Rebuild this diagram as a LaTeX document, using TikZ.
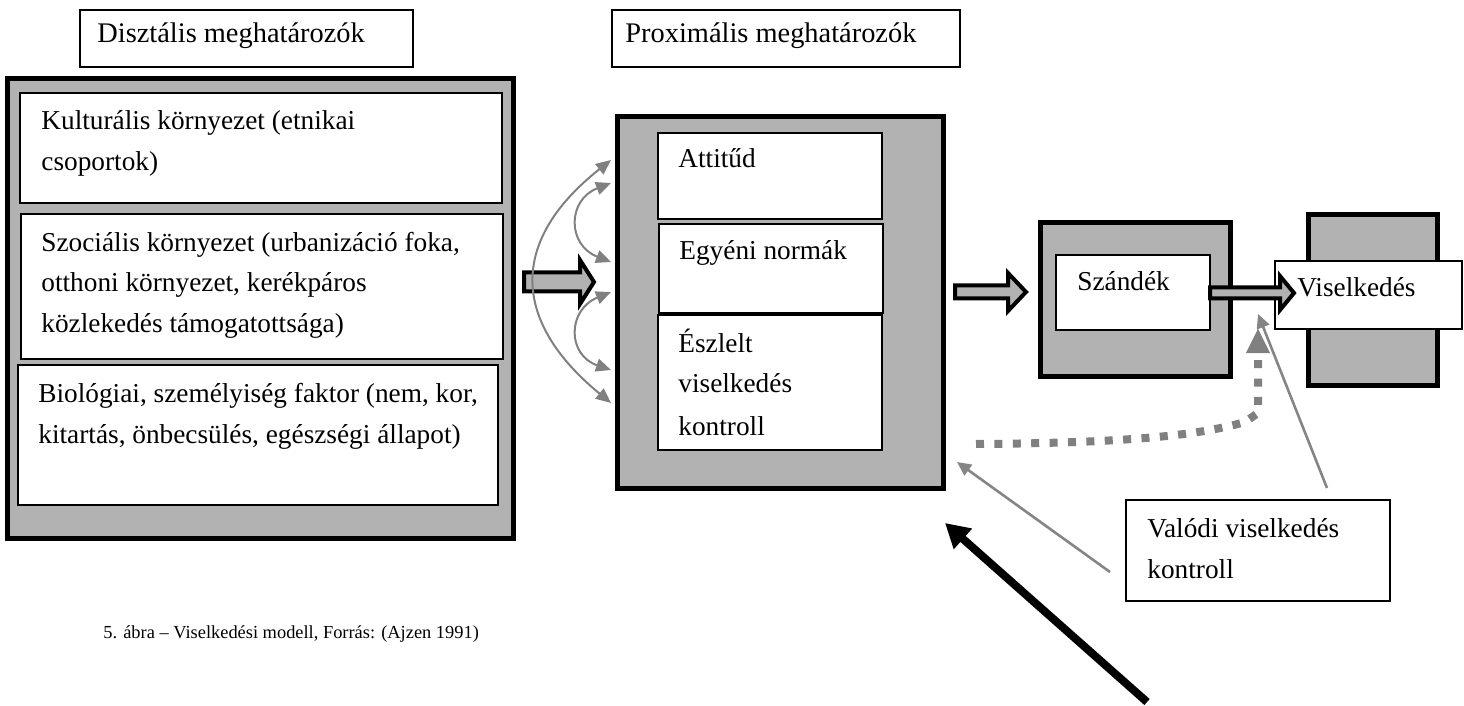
\documentclass[tikz,border=0pt]{standalone}
\usepackage{fontspec}
\setmainfont{Liberation Serif}
\usetikzlibrary{arrows.meta}
\newcommand\bodyfnt{\fontsize{13.65}{16}\selectfont}
\newcommand\lblfnt{\fontsize{14.2}{17}\selectfont}
\newcommand\capfnt{\fontsize{9.2}{11}\selectfont}
\newcommand\blockarr[6]{%
  \draw[barrow] ({#1},{#4-#5}) -- ({#2},{#4-#5}) -- ({#2},{#4-#6}) -- ({#3},{#4})
    -- ({#2},{#4+#6}) -- ({#2},{#4+#5}) -- ({#1},{#4+#5}) -- cycle;}
\begin{document}
\begin{tikzpicture}[x=0.5pt,y=-0.5pt,
  gbox/.style={draw=black, line width=2.5pt, fill=black!30, inner sep=0pt},
  wbox/.style={draw=black, line width=1.2pt, fill=white, inner sep=0pt},
  lbl/.style={draw=black, line width=1pt, fill=white, inner sep=0pt},
  txt/.style={inner sep=0pt, anchor=base west, font=\bodyfnt},
  barrow/.style={draw=black, line width=2pt, fill=black!30, line join=miter},
  garr/.style={draw=black!50, line width=1pt, {Triangle[length=7.5pt,width=6.5pt]}-{Triangle[length=7.5pt,width=6.5pt]}},
  tarr/.style={draw=black!48, line width=1.3pt, -{Triangle[length=7pt,width=6.5pt]}},
  dotarr/.style={draw=black!50, line width=4pt, dash pattern=on 4pt off 5.2pt, -{Triangle[length=12.5pt,width=11pt]}},
  bigarr/.style={draw=black, line width=4pt, -{Triangle[length=12pt,width=13pt]}}]
\useasboundingbox (0,0) rectangle (1464,706);

% top labels
\node[lbl, minimum width=166.5pt, minimum height=28.5pt] (dlbl) at (246.5,38.5) {};
\node[txt, font=\lblfnt] (dtxt) at (97,43) {Disztális meghatározók};
\node[lbl, minimum width=174pt, minimum height=28.5pt] (plbl) at (786,38.5) {};
\node[txt, font=\lblfnt] (ptxt) at (625,43) {Proximális meghatározók};

% distal group
\node[gbox, minimum width=253pt, minimum height=229.5pt] (dist) at (260,308.5) {};
\node[wbox, minimum width=241pt, minimum height=55pt] (k1) at (261,148) {};
\node[wbox, minimum width=241pt, minimum height=72.5pt] (k2) at (262,286.5) {};
\node[wbox, minimum width=240pt, minimum height=70pt] (k3) at (258,435) {};
\node[txt] (k1a) at (41,130) {Kulturális környezet (etnikai};
\node[txt] (k1b) at (41,170) {csoportok)};
\node[txt] (k2a) at (41,252) {Szociális környezet (urbanizáció foka,};
\node[txt] (k2b) at (41,292) {otthoni környezet, kerékpáros};
\node[txt] (k2c) at (41,333) {közlekedés támogatottsága)};
\node[txt] (k3a) at (38,402) {Biológiai, személyiség faktor (nem, kor,};
\node[txt] (k3b) at (38,443) {kitartás, önbecsülés, egészségi állapot)};

% proximal group
\node[gbox, minimum width=163pt, minimum height=185.5pt] (prox) at (780,302.5) {};
\node[wbox, minimum width=112pt, minimum height=43pt] (att) at (770,176) {};
\node[wbox, minimum width=112pt, minimum height=44.5pt] (egy) at (771,268.5) {};
\node[wbox, minimum width=112pt, minimum height=67.5pt] (esz) at (770,382.5) {};
\node[txt] (atta) at (678,168) {Attitűd};
\node[txt] (egya) at (679,260) {Egyéni normák};
\node[txt] (esza) at (678,352) {Észlelt};
\node[txt] (eszb) at (678,393) {viselkedés};
\node[txt] (eszc) at (678,435) {kontroll};

% intention
\node[gbox, minimum width=95pt, minimum height=76.5pt] (szo) at (1135,299.5) {};
\node[wbox, minimum width=77pt, minimum height=37.5pt] (szi) at (1133,292.5) {};
\node[txt] (szt) at (1077,291) {Szándék};

% behaviour
\node[gbox, minimum width=64.5pt, minimum height=85pt] (vgo) at (1372.5,300) {};
\node[wbox, minimum width=93.5pt, minimum height=34pt] (vwi) at (1368.5,295) {};
\node[txt] (vt) at (1297,297) {Viselkedés};

% actual control
\node[wbox, minimum width=132pt, minimum height=50.5pt] (val) at (1258,550.5) {};
\node[txt] (vala) at (1147,537) {Valódi viselkedés};
\node[txt] (valb) at (1147,578) {kontroll};

% caption
\node[inner sep=0pt, anchor=base west, font=\capfnt] (cap) at (103,638) {5. ábra – Viselkedési modell, Forrás: (Ajzen 1991)};

% block arrows
\blockarr{524}{580}{594}{282}{9.5}{22}
\blockarr{955}{1008}{1026}{292}{6.5}{19}
\blockarr{1210}{1280}{1294}{293}{5.5}{17}

% curved gray arrows
\coordinate (c1) at (611,160);
\coordinate (c2) at (611,183);
\coordinate (c3) at (611,262);
\coordinate (c4) at (611,292);
\coordinate (c5) at (611,370);
\coordinate (c6) at (611,403);
\draw[garr] (c1) .. controls (510,240) and (510,320) .. (c6);
\draw[garr] (c2) .. controls (567,200) and (567,245) .. (c3);
\draw[garr] (c4) .. controls (567,310) and (567,355) .. (c5);

% dotted arrow
\coordinate (d0) at (976,444);
\coordinate (d1) at (1258,328);
\draw[dotarr] (d0) .. controls (1130,443) and (1200,435) .. (1245,422) -- (1258,413) -- (d1);

% thin gray arrows from actual control
\coordinate (v1) at (1327,488);
\coordinate (v1t) at (1258,314);
\coordinate (v2) at (1110,572);
\coordinate (v2t) at (957,462);
\draw[tarr] (v1) -- (v1t);
\draw[tarr] (v2) -- (v2t);

% big black arrow
\coordinate (b0) at (1147,702);
\coordinate (b1) at (945,523);
\draw[bigarr] (b0) -- (b1);
\end{tikzpicture}
\end{document}
